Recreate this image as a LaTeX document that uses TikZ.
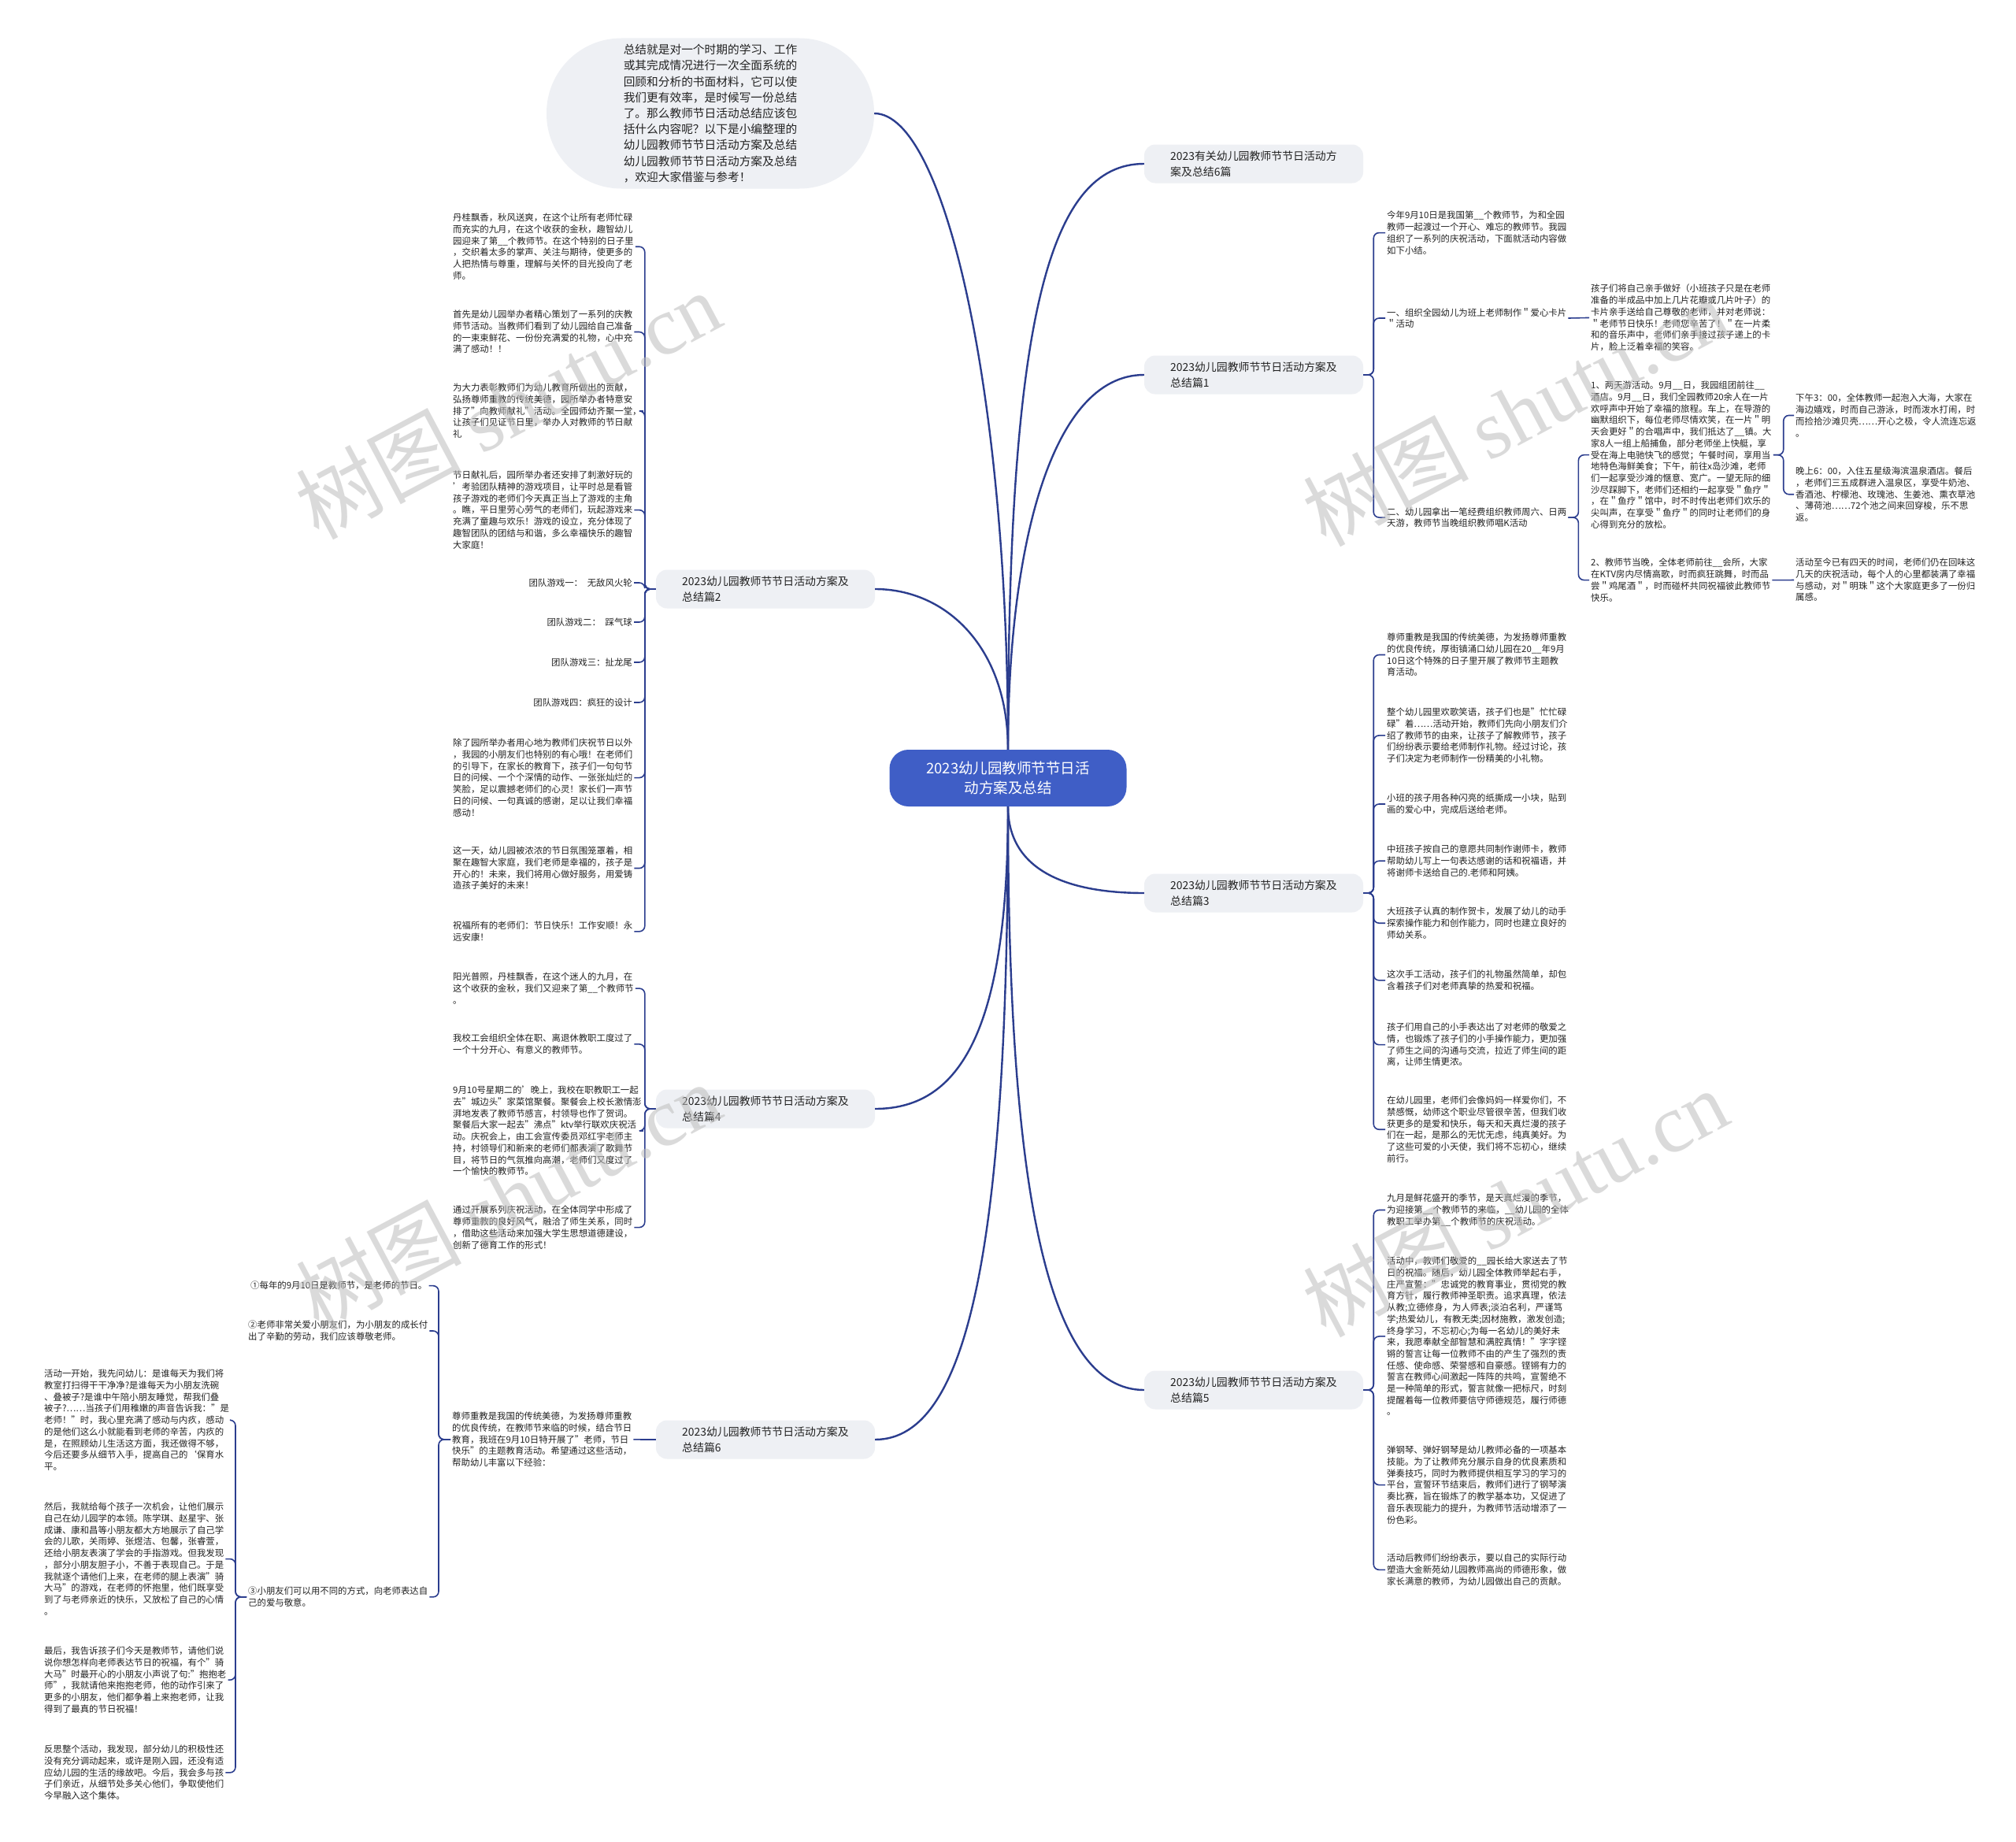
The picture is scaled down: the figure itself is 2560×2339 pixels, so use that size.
\documentclass[tikz,border=0pt]{standalone}
\usepackage{fontspec}
\setmainfont{Noto Sans CJK SC}
\newfontfamily\markfont{Liberation Serif}
\usepackage{tikz}
\definecolor{hubblue}{HTML}{3F5EC6}
\definecolor{linkblue}{HTML}{2B3D8E}
\definecolor{pale}{HTML}{EEF0F4}
\definecolor{ink}{HTML}{222222}
\definecolor{wmark}{HTML}{BDBDBD}

\begin{document}
\begin{tikzpicture}[x=1pt,y=-1pt,
 hub/.style={fill=hubblue,rounded corners=24pt,minimum width=301pt,minimum height=72pt,align=center,text=white,font=\fontsize{18.5}{24.5}\selectfont},
 branch/.style={fill=pale,rounded corners=14pt,minimum width=278pt,minimum height=49pt,inner xsep=25pt,inner ysep=6pt,align=left,text=ink,font=\fontsize{13.9}{19.6}\selectfont},
 intro/.style={fill=pale,rounded corners=95pt,minimum width=416pt,minimum height=191pt,align=left,text=ink,font=\fontsize{14.7}{20.2}\selectfont},
 leaf/.style={anchor=north west,inner sep=2pt,align=left,text=ink,font=\fontsize{11.4}{14.7}\selectfont},
 game/.style={anchor=east,inner sep=2pt,text=ink,font=\fontsize{11.4}{14.7}\selectfont},
 trunk/.style={draw=linkblue,line width=2.4pt},
 sub/.style={draw=linkblue,line width=1.6pt,rounded corners=7pt},
 wm/.style={text=wmark,opacity=0.55,rotate=28,font=\fontsize{105}{110}\selectfont}]
\useasboundingbox (0,0) rectangle (2560,2339);
\fill[white] (0,0) rectangle (2560,2339);

% centre and branches
\node[hub] (c) at (1280,988) {2023幼儿园教师节节日活\\动方案及总结};
\node[intro] (top) at (902,144) {总结就是对一个时期的学习、工作\\或其完成情况进行一次全面系统的\\回顾和分析的书面材料，它可以使\\我们更有效率，是时候写一份总结\\了。那么教师节日活动总结应该包\\括什么内容呢？以下是小编整理的\\幼儿园教师节节日活动方案及总结\\幼儿园教师节节日活动方案及总结\\，欢迎大家借鉴与参考！};
\node[branch] (r0) at (1592,208) {2023有关幼儿园教师节节日活动方\\案及总结6篇};
\node[branch] (r1) at (1592,476) {2023幼儿园教师节节日活动方案及\\总结篇1};
\node[branch] (r3) at (1592,1134) {2023幼儿园教师节节日活动方案及\\总结篇3};
\node[branch] (r5) at (1592,1765) {2023幼儿园教师节节日活动方案及\\总结篇5};
\node[branch] (l2) at (972,748) {2023幼儿园教师节节日活动方案及\\总结篇2};
\node[branch] (l4) at (972,1408) {2023幼儿园教师节节日活动方案及\\总结篇4};
\node[branch] (l6) at (972,1828) {2023幼儿园教师节节日活动方案及\\总结篇6};

\draw[trunk] (c.north) .. controls +(0,-450) and +(90,0) .. (top.east);
\draw[trunk] (c.north) .. controls +(0,-550) and +(-120,0) .. (r0.west);
\draw[trunk] (c.north) .. controls +(0,-250) and +(-120,0) .. (r1.west);
\draw[trunk] (c.north) .. controls +(0,-130) and +(90,0) .. (l2.east);
\draw[trunk] (c.south) .. controls +(0,80) and +(-100,0) .. (r3.west);
\draw[trunk] (c.south) .. controls +(0,280) and +(110,0) .. (l4.east);
\draw[trunk] (c.south) .. controls +(0,500) and +(-120,0) .. (r5.west);
\draw[trunk] (c.south) .. controls +(0,550) and +(120,0) .. (l6.east);

% 篇1
\node[leaf] (s1a) at (1759,266) {今年9月10日是我国第\_\_个教师节，为和全园\\教师一起渡过一个开心、难忘的教师节。我园\\组织了一系列的庆祝活动，下面就活动内容做\\如下小结。};
\node[leaf] (s1b) at (1759,389) {一、组织全园幼儿为班上老师制作＂爱心卡片\\＂活动};
\node[leaf] (s1c) at (1759,642) {二、幼儿园拿出一笔经费组织教师周六、日两\\天游，教师节当晚组织教师唱K活动};
\node[leaf] (s1d) at (2018,359) {孩子们将自己亲手做好（小班孩子只是在老师\\准备的半成品中加上几片花瓣或几片叶子）的\\卡片亲手送给自己尊敬的老师，并对老师说：\\＂老师节日快乐！老师您辛苦了！＂在一片柔\\和的音乐声中，老师们亲手接过孩子递上的卡\\片，脸上泛着幸福的笑容。};
\node[leaf] (s1e) at (2018,482) {1、两天游活动。9月\_\_日，我园组团前往\_\_\\酒店。9月\_\_日，我们全园教师20余人在一片\\欢呼声中开始了幸福的旅程。车上，在导游的\\幽默组织下，每位老师尽情欢笑，在一片＂明\\天会更好＂的合唱声中，我们抵达了\_\_镇。大\\家8人一组上船捕鱼，部分老师坐上快艇，享\\受在海上电驰快飞的感觉；午餐时间，享用当\\地特色海鲜美食；下午，前往x岛沙滩，老师\\们一起享受沙滩的惬意、宽广。一望无际的细\\沙尽踩脚下，老师们还相约一起享受＂鱼疗＂\\，在＂鱼疗＂馆中，时不时传出老师们欢乐的\\尖叫声，在享受＂鱼疗＂的同时让老师们的身\\心得到充分的放松。};
\node[leaf] (s1f) at (2018,707) {2、教师节当晚，全体老师前往\_\_会所，大家\\在KTV房内尽情高歌，时而疯狂跳舞，时而品\\尝＂鸡尾酒＂，时而碰杯共同祝福彼此教师节\\快乐。};
\node[leaf] (s1g) at (2278,498) {下午3：00，全体教师一起泡入大海，大家在\\海边嬉戏，时而自己游泳，时而泼水打闹，时\\而捡拾沙滩贝壳……开心之极，令人流连忘返\\。};
\node[leaf] (s1h) at (2278,591) {晚上6：00，入住五星级海滨温泉酒店。餐后\\，老师们三五成群进入温泉区，享受牛奶池、\\香酒池、柠檬池、玫瑰池、生姜池、熏衣草池\\、薄荷池……72个池之间来回穿梭，乐不思\\返。};
\node[leaf] (s1i) at (2278,707) {活动至今已有四天的时间，老师们仍在回味这\\几天的庆祝活动，每个人的心里都装满了幸福\\与感动，对＂明珠＂这个大家庭更多了一份归\\属感。};
\foreach \k in {s1a,s1b,s1c} \draw[sub] (r1.east) -- ++(13,0) |- (\k.west);
\draw[sub] (s1b.east) -- (s1d.west);
\foreach \k in {s1e,s1f} \draw[sub] (s1c.east) -- ++(13,0) |- (\k.west);
\foreach \k in {s1g,s1h} \draw[sub] (s1e.east) -- ++(13,0) |- (\k.west);
\draw[sub] (s1f.east) -- (s1i.west);

% 篇3
\node[leaf] (t1) at (1759,802) {尊师重教是我国的传统美德，为发扬尊师重教\\的优良传统，厚街镇涌口幼儿园在20\_\_年9月\\10日这个特殊的日子里开展了教师节主题教\\育活动。};
\node[leaf] (t2) at (1759,897) {整个幼儿园里欢歌笑语，孩子们也是"忙忙碌\\碌"着……活动开始，教师们先向小朋友们介\\绍了教师节的由来，让孩子了解教师节，孩子\\们纷纷表示要给老师制作礼物。经过讨论，孩\\子们决定为老师制作一份精美的小礼物。};
\node[leaf] (t3) at (1759,1006) {小班的孩子用各种闪亮的纸撕成一小块，贴到\\画的爱心中，完成后送给老师。};
\node[leaf] (t4) at (1759,1071) {中班孩子按自己的意愿共同制作谢师卡，教师\\帮助幼儿写上一句表达感谢的话和祝福语，并\\将谢师卡送给自己的.老师和阿姨。};
\node[leaf] (t5) at (1759,1150) {大班孩子认真的制作贺卡，发展了幼儿的动手\\探索操作能力和创作能力，同时也建立良好的\\师幼关系。};
\node[leaf] (t6) at (1759,1230) {这次手工活动，孩子们的礼物虽然简单，却包\\含着孩子们对老师真挚的热爱和祝福。};
\node[leaf] (t7) at (1759,1297) {孩子们用自己的小手表达出了对老师的敬爱之\\情，也锻炼了孩子们的小手操作能力，更加强\\了师生之间的沟通与交流，拉近了师生间的距\\离，让师生情更浓。};
\node[leaf] (t8) at (1759,1390) {在幼儿园里，老师们会像妈妈一样爱你们，不\\禁感慨，幼师这个职业尽管很辛苦，但我们收\\获更多的是爱和快乐，每天和天真烂漫的孩子\\们在一起，是那么的无忧无虑，纯真美好。为\\了这些可爱的小天使，我们将不忘初心，继续\\前行。};
\foreach \k in {t1,t2,t3,t4,t5,t6,t7,t8} \draw[sub] (r3.east) -- ++(13,0) |- (\k.west);

% 篇5
\node[leaf] (u1) at (1759,1514) {九月是鲜花盛开的季节，是天真烂漫的季节，\\为迎接第\_\_个教师节的来临，\_\_幼儿园的全体\\教职工举办第\_\_个教师节的庆祝活动。};
\node[leaf] (u2) at (1759,1594) {活动中，教师们敬爱的\_\_园长给大家送去了节\\日的祝福。随后，幼儿园全体教师举起右手，\\庄严宣誓："忠诚党的教育事业，贯彻党的教\\育方针，履行教师神圣职责。追求真理，依法\\从教;立德修身，为人师表;淡泊名利，严谨笃\\学;热爱幼儿，有教无类;因材施教，激发创造;\\终身学习，不忘初心;为每一名幼儿的美好未\\来，我愿奉献全部智慧和满腔真情！"字字铿\\锵的誓言让每一位教师不由的产生了强烈的责\\任感、使命感、荣誉感和自豪感。铿锵有力的\\誓言在教师心间激起一阵阵的共鸣，宣誓绝不\\是一种简单的形式，誓言就像一把标尺，时刻\\提醒着每一位教师要信守师德规范，履行师德\\。};
\node[leaf] (u3) at (1759,1834) {弹钢琴、弹好钢琴是幼儿教师必备的一项基本\\技能。为了让教师充分展示自身的优良素质和\\弹奏技巧，同时为教师提供相互学习的学习的\\平台，宣誓环节结束后，教师们进行了钢琴演\\奏比赛，旨在锻炼了的教学基本功，又促进了\\音乐表现能力的提升，为教师节活动增添了一\\份色彩。};
\node[leaf] (u4) at (1759,1971) {活动后教师们纷纷表示，要以自己的实际行动\\塑造大金新苑幼儿园教师高尚的师德形象，做\\家长满意的教师，为幼儿园做出自己的贡献。};
\foreach \k in {u1,u2,u3,u4} \draw[sub] (r5.east) -- ++(13,0) |- (\k.west);

% 篇2
\node[leaf] (p1) at (573,269) {丹桂飘香，秋风送爽，在这个让所有老师忙碌\\而充实的九月，在这个收获的金秋，趣智幼儿\\园迎来了第\_\_个教师节。在这个特别的日子里\\，交织着太多的掌声、关注与期待，使更多的\\人把热情与尊重，理解与关怀的目光投向了老\\师。};
\node[leaf] (p2) at (573,392) {首先是幼儿园举办者精心策划了一系列的庆教\\师节活动。当教师们看到了幼儿园给自己准备\\的一束束鲜花、一份份充满爱的礼物，心中充\\满了感动！！};
\node[leaf] (p3) at (573,485) {为大力表彰教师们为幼儿教育所做出的贡献，\\弘扬尊师重教的传统美德，园所举办者特意安\\排了"向教师献礼"活动。全园师幼齐聚一堂，\\让孩子们见证节日里，举办人对教师的节日献\\礼};
\node[leaf] (p4) at (573,596) {节日献礼后，园所举办者还安排了刺激好玩的\\'考验团队精神的游戏项目，让平时总是看管\\孩子游戏的老师们今天真正当上了游戏的主角\\。瞧，平日里劳心劳气的老师们，玩起游戏来\\充满了童趣与欢乐！游戏的设立，充分体现了\\趣智团队的团结与和谐，多么幸福快乐的趣智\\大家庭！};
\node[game] (g1) at (805,740) {团队游戏一：\hspace{0.5em}无敌风火轮};
\node[game] (g2) at (805,790) {团队游戏二：\hspace{0.5em}踩气球};
\node[game] (g3) at (805,841) {团队游戏三：扯龙尾};
\node[game] (g4) at (805,892) {团队游戏四：疯狂的设计};
\node[leaf] (p5) at (573,936) {除了园所举办者用心地为教师们庆祝节日以外\\，我园的小朋友们也特别的有心哦！在老师们\\的引导下，在家长的教育下，孩子们一句句节\\日的问候、一个个深情的动作、一张张灿烂的\\笑脸，足以震撼老师们的心灵！家长们一声节\\日的问候、一句真诚的感谢，足以让我们幸福\\感动！};
\node[leaf] (p6) at (573,1073) {这一天，幼儿园被浓浓的节日氛围笼罩着，相\\聚在趣智大家庭，我们老师是幸福的，孩子是\\开心的！未来，我们将用心做好服务，用爱铸\\造孩子美好的未来！};
\node[leaf] (p7) at (573,1168) {祝福所有的老师们：节日快乐！工作安顺！永\\远安康！};
\foreach \k in {p1,p2,p3,p4,g1,g2,g3,g4,p5,p6,p7} \draw[sub] (l2.west) -- ++(-14,0) |- (\k.east);

% 篇4
\node[leaf] (q1) at (573,1233) {阳光普照，丹桂飘香，在这个迷人的九月，在\\这个收获的金秋，我们又迎来了第\_\_个教师节\\。};
\node[leaf] (q2) at (573,1311) {我校工会组织全体在职、离退休教职工度过了\\一个十分开心、有意义的教师节。};
\node[leaf] (q3) at (573,1377) {9月10号星期二的'晚上，我校在职教职工一起\\去"城边头"家菜馆聚餐。聚餐会上校长激情澎\\湃地发表了教师节感言，村领导也作了贺词。\\聚餐后大家一起去"沸点"ktv举行联欢庆祝活\\动。庆祝会上，由工会宣传委员邓红宇老师主\\持，村领导们和新来的老师们都表演了歌舞节\\目，将节日的气氛推向高潮，老师们又度过了\\一个愉快的教师节。};
\node[leaf] (q4) at (573,1529) {通过开展系列庆祝活动，在全体同学中形成了\\尊师重教的良好风气，融洽了师生关系，同时\\，借助这些活动来加强大学生思想道德建设，\\创新了德育工作的形式！};
\foreach \k in {q1,q2,q3,q4} \draw[sub] (l4.west) -- ++(-14,0) |- (\k.east);

% 篇6
\node[leaf] (v0) at (572,1791) {尊师重教是我国的传统美德，为发扬尊师重教\\的优良传统，在教师节来临的时候，结合节日\\教育，我班在9月10日特开展了"老师，节日\\快乐"的主题教育活动。希望通过这些活动，\\帮助幼儿丰富以下经验：};
\node[leaf] (v1) at (316,1625) {①每年的9月10日是教师节，是老师的节日。};
\node[leaf] (v2) at (313,1675) {②老师非常关爱小朋友们，为小朋友的成长付\\出了辛勤的劳动，我们应该尊敬老师。};
\node[leaf] (v3) at (313,2013) {③小朋友们可以用不同的方式，向老师表达自\\己的爱与敬意。};
\node[leaf] (w1) at (54,1737) {活动一开始，我先问幼儿：是谁每天为我们将\\教室打扫得干干净净?是谁每天为小朋友洗碗\\、叠被子?是谁中午陪小朋友睡觉，帮我们叠\\被子?……当孩子们用稚嫩的声音告诉我："是\\老师！"时，我心里充满了感动与内疚，感动\\的是他们这么小就能看到老师的辛苦，内疚的\\是，在照顾幼儿生活这方面，我还做得不够，\\今后还要多从细节入手，提高自己的`保育水\\平。};
\node[leaf] (w2) at (54,1906) {然后，我就给每个孩子一次机会，让他们展示\\自己在幼儿园学的本领。陈学琪、赵星宇、张\\成谦、康和昌等小朋友都大方地展示了自己学\\会的儿歌，关雨婷、张煜洁、包馨，张睿萱，\\还给小朋友表演了学会的手指游戏。但我发现\\，部分小朋友胆子小，不善于表现自己。于是\\我就逐个请他们上来，在老师的腿上表演"骑\\大马"的游戏，在老师的怀抱里，他们既享受\\到了与老师亲近的快乐，又放松了自己的心情\\。};
\node[leaf] (w3) at (54,2089) {最后，我告诉孩子们今天是教师节，请他们说\\说你想怎样向老师表达节日的祝福，有个"骑\\大马"时最开心的小朋友小声说了句:"抱抱老\\师"，我就请他来抱抱老师，他的动作引来了\\更多的小朋友，他们都争着上来抱老师，让我\\得到了最真的节日祝福！};
\node[leaf] (w4) at (54,2214) {反思整个活动，我发现，部分幼儿的积极性还\\没有充分调动起来，或许是刚入园，还没有适\\应幼儿园的生活的缘故吧。今后，我会多与孩\\子们亲近，从细节处多关心他们，争取使他们\\今早融入这个集体。};
\draw[sub] (l6.west) -- (v0.east);
\foreach \k in {v1,v2,v3} \draw[sub] (v0.west) -- ++(-15,0) |- (\k.east);
\foreach \k in {w1,w2,w3,w4} \draw[sub] (v3.west) -- ++(-14,0) |- (\k.east);

% watermarks
\foreach \p in {(645,514),(1924,523),(645,1519),(1924,1527)}
 \node[wm] at \p {树图 {\markfont shutu.cn}};
\end{tikzpicture}
\end{document}
